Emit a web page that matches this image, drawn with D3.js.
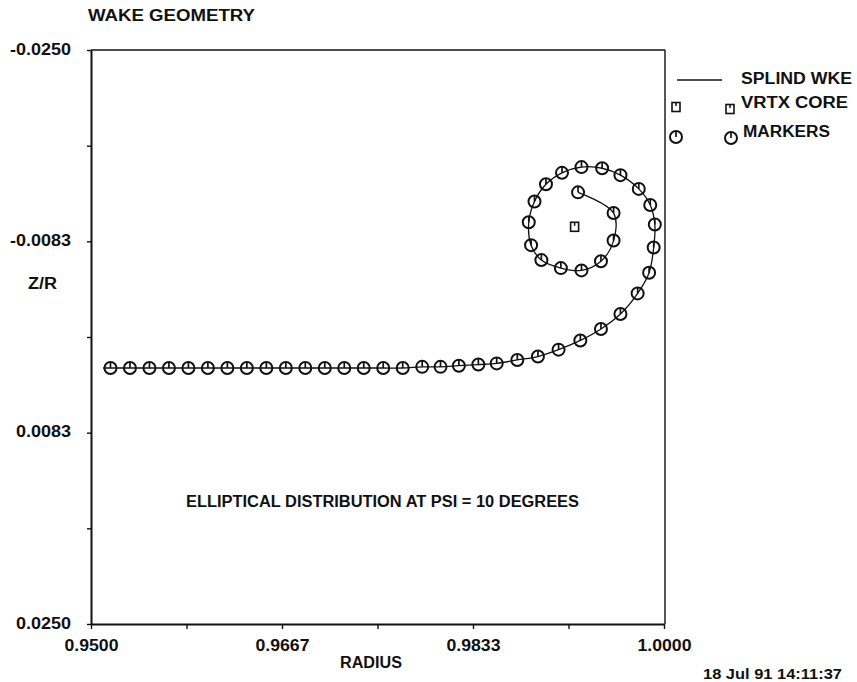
<!DOCTYPE html>
<html>
<head>
<meta charset="utf-8">
<script src="https://cdn.jsdelivr.net/npm/d3@7"></script>
<style>
  body { margin: 0; background: #fff; }
  text { font-family: "Liberation Sans", Arial, Helvetica, sans-serif; font-weight: bold; fill: #111; }
</style>
</head>
<body>
<svg id="chart" width="857" height="682"></svg>
<script>
// Axis ticks and their printed labels (every other tick is labelled)
const xTicks = [0.95, 0.958333, 0.966667, 0.975, 0.983333, 0.991667, 1.0];
const xTickLabels = ["0.9500", "", "0.9667", "", "0.9833", "", "1.0000"];
const yTicks = [-0.025, -0.016667, -0.008333, 0, 0.008333, 0.016667, 0.025];
const yTickLabels = ["-0.0250", "", "-0.0083", "", "0.0083", "", "0.0250"];

// Wake marker positions: radius and Z/R
const markerR = [0.9517, 0.9534, 0.9551, 0.9568, 0.9585, 0.9602, 0.9619, 0.9636,
                 0.9653, 0.9670, 0.9687, 0.9704, 0.9721, 0.9738, 0.9755, 0.9772,
                 0.9789, 0.9805, 0.9821, 0.9838, 0.9854, 0.9872, 0.9890, 0.9908,
                 0.9927, 0.9945, 0.9962, 0.9977, 0.9987, 0.9991, 0.9992, 0.9988,
                 0.9978, 0.9962, 0.9946, 0.9928, 0.9911, 0.9897, 0.9887, 0.9882,
                 0.9884, 0.9893, 0.9910, 0.9928, 0.9945, 0.9956, 0.9956, 0.9925];
const markerZ = [0.0027, 0.0027, 0.0027, 0.0027, 0.0027, 0.0027, 0.0027, 0.0027,
                 0.0027, 0.0027, 0.0027, 0.0027, 0.0027, 0.0027, 0.0027, 0.0027,
                 0.0026, 0.0026, 0.0025, 0.0024, 0.0023, 0.0020, 0.0017, 0.0011,
                 0.0003, -0.0007, -0.0020, -0.0038, -0.0056, -0.0078, -0.0098, -0.0115,
                 -0.0129, -0.0141, -0.0147, -0.0148, -0.0143, -0.0133, -0.0118, -0.0100,
                 -0.0080, -0.0067, -0.0060, -0.0058, -0.0066, -0.0084, -0.0108, -0.0126];

// Splined wake starts just inboard of the first marker
const wakeStartR = [0.95105];
const wakeStartZ = [0.0027];

// Vortex core location
const coreR = [0.9922];
const coreZ = [-0.0096];

const legendLabels = ["SPLIND WKE", "VRTX CORE", "MARKERS"];

const svg = d3.select("#chart");
const x = d3.scaleLinear().domain([0.95, 1.0]).range([91, 664]);
const y = d3.scaleLinear().domain([-0.025, 0.025]).range([50, 624]);

// Frame: top and right borders
svg.append("line").attr("x1", 91).attr("x2", 665).attr("y1", 50).attr("y2", 50)
  .attr("stroke", "#111").attr("stroke-width", 1.4);
svg.append("line").attr("x1", 665).attr("x2", 665).attr("y1", 50).attr("y2", 624)
  .attr("stroke", "#111").attr("stroke-width", 1.4);

// Axes
const gx = svg.append("g").attr("transform", "translate(0,624)")
  .call(d3.axisBottom(x).tickValues(xTicks).tickSize(5).tickSizeOuter(0)
    .tickFormat((d, i) => xTickLabels[i]));
const gy = svg.append("g").attr("transform", "translate(91,0)")
  .call(d3.axisLeft(y).tickValues(yTicks).tickSize(4).tickSizeOuter(0)
    .tickFormat((d, i) => yTickLabels[i]));

[gx, gy].forEach(g => {
  g.select(".domain").attr("stroke", "#111").attr("stroke-width", 2);
  g.selectAll(".tick line").attr("stroke", "#111").attr("stroke-width", 1.4);
  g.selectAll("text").attr("font-size", 16).attr("fill", "#111")
    .attr("font-family", null).attr("font-weight", "bold");
});
gx.selectAll("text").attr("y", 16)
  .attr("textLength", (d, i) => xTickLabels[i] ? 54 : null)
  .attr("lengthAdjust", "spacingAndGlyphs");
gy.selectAll("text").attr("x", -20).attr("dy", "0.25em")
  .attr("textLength", (d, i) => yTickLabels[i] ? (yTickLabels[i][0] === "-" ? 61 : 55) : null)
  .attr("lengthAdjust", "spacingAndGlyphs");

// Text helper
function label(str, px, py, len, size, anchor) {
  svg.append("text").attr("x", px).attr("y", py)
    .attr("font-size", size).attr("text-anchor", anchor || "start")
    .attr("textLength", len).attr("lengthAdjust", "spacingAndGlyphs")
    .text(str);
}
label("WAKE GEOMETRY", 88, 21, 167, 16);
label("Z/R", 28, 289, 29, 16);
label("RADIUS", 340, 668, 62, 16);
label("18 Jul 91 14:11:37", 703, 679, 139, 15);
label("ELLIPTICAL DISTRIBUTION AT PSI = 10 DEGREES", 186, 507, 393, 16);

// Splined wake line
const wakePts = [[wakeStartR[0], wakeStartZ[0]]].concat(markerR.map((r, i) => [r, markerZ[i]]));
svg.append("path")
  .attr("d", d3.line().x(d => x(d[0])).y(d => y(d[1])).curve(d3.curveCatmullRom.alpha(0.5))(wakePts))
  .attr("fill", "none").attr("stroke", "#111").attr("stroke-width", 1.3);

// Marker symbol: open circle with a tick from top to centre
function drawMarker(g, cx, cy) {
  g.append("circle").attr("cx", cx).attr("cy", cy).attr("r", 6)
    .attr("fill", "none").attr("stroke", "#111").attr("stroke-width", 2);
  g.append("line").attr("x1", cx).attr("x2", cx).attr("y1", cy - 6).attr("y2", cy)
    .attr("stroke", "#111").attr("stroke-width", 1.7);
}
// Vortex core symbol: small square with a top tick
function drawCore(g, cx, cy) {
  g.append("rect").attr("x", cx - 4).attr("y", cy - 4.5).attr("width", 8).attr("height", 9)
    .attr("fill", "none").attr("stroke", "#111").attr("stroke-width", 1.6);
  g.append("line").attr("x1", cx).attr("x2", cx).attr("y1", cy - 4.5).attr("y2", cy - 1)
    .attr("stroke", "#111").attr("stroke-width", 1.5);
}

const gm = svg.append("g");
markerR.forEach((r, i) => drawMarker(gm, x(r), y(markerZ[i])));
coreR.forEach((r, i) => drawCore(gm, x(r), y(coreZ[i])));

// Legend
const gl = svg.append("g");
gl.append("line").attr("x1", 677).attr("x2", 722).attr("y1", 80).attr("y2", 80)
  .attr("stroke", "#111").attr("stroke-width", 1.4);
drawCore(gl, 676, 107);
drawCore(gl, 730, 109);
drawMarker(gl, 676, 137);
drawMarker(gl, 731, 138);
label(legendLabels[0], 741, 84, 111, 16);
label(legendLabels[1], 741, 108, 107, 16);
label(legendLabels[2], 743, 137, 87, 16);
</script>
</body>
</html>
